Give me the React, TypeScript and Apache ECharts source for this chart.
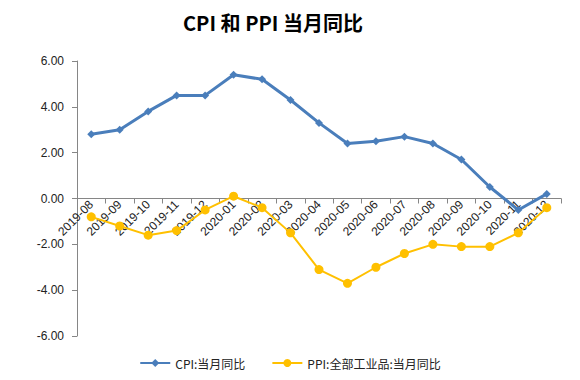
import React, { useEffect, useRef } from "react";
import * as echarts from "echarts";

const categories = [
  "2019-08", "2019-09", "2019-10", "2019-11", "2019-12",
  "2020-01", "2020-02", "2020-03", "2020-04", "2020-05", "2020-06",
  "2020-07", "2020-08", "2020-09", "2020-10", "2020-11", "2020-12",
];
const cpiValues = [2.8, 3.0, 3.8, 4.5, 4.5, 5.4, 5.2, 4.3, 3.3, 2.4, 2.5, 2.7, 2.4, 1.7, 0.5, -0.5, 0.2];
const ppiValues = [-0.8, -1.2, -1.6, -1.4, -0.5, 0.1, -0.4, -1.5, -3.1, -3.7, -3.0, -2.4, -2.0, -2.1, -2.1, -1.5, -0.4];
const seriesNames = ["CPI:当月同比", "PPI:全部工业品:当月同比"];
const titleText = "CPI 和 PPI 当月同比";

const GRID_TOP = 61;
const GRID_BOTTOM = 44;
const PLOT_H = 380 - GRID_TOP - GRID_BOTTOM;

export default function App() {
  const ref = useRef<HTMLDivElement>(null);
  useEffect(() => {
    if (!ref.current) return;
    const chart = echarts.init(ref.current, undefined, { renderer: "svg" });
    chart.setOption({
      animation: false,
      backgroundColor: "#ffffff",
      title: {
        text: titleText,
        left: 178,
        top: 7,
        textStyle: {
          fontFamily: "Noto Sans CJK SC",
          fontSize: 20,
          fontWeight: "bold",
          color: "#000",
        },
      },
      legend: {
        bottom: 6,
        left: "center",
        itemGap: 26,
        itemWidth: 30,
        itemHeight: 10,
        textStyle: { fontFamily: "Noto Sans CJK SC", fontSize: 12, color: "#222" },
        data: seriesNames,
      },
      grid: { left: 77, right: 19, top: GRID_TOP, bottom: GRID_BOTTOM },
      xAxis: {
        type: "category",
        data: categories,
        boundaryGap: true,
        position: "bottom",
        offset: -PLOT_H / 2,
        axisLine: { onZero: false, lineStyle: { color: "#868686", width: 1 } },
        axisTick: { show: true, alignWithLabel: false, length: 5, lineStyle: { color: "#868686" } },
        axisLabel: {
          rotate: 45,
          interval: 0,
          fontFamily: "Liberation Sans",
          fontSize: 12,
          color: "#222",
          margin: 4,
        },
      },
      yAxis: {
        type: "value",
        min: -6,
        max: 6,
        interval: 2,
        splitLine: { show: false },
        axisLine: { show: true, lineStyle: { color: "#868686" } },
        axisTick: { show: true, length: 5, lineStyle: { color: "#868686" } },
        axisLabel: {
          formatter: (v: number) => v.toFixed(2),
          fontFamily: "Liberation Sans",
          fontSize: 12,
          color: "#222",
          margin: 13,
        },
      },
      series: [
        {
          name: seriesNames[0],
          type: "line",
          data: cpiValues,
          symbol: "diamond",
          symbolSize: 8,
          lineStyle: { color: "#4a7ebb", width: 3 },
          itemStyle: { color: "#4a7ebb" },
        },
        {
          name: seriesNames[1],
          type: "line",
          data: ppiValues,
          symbol: "circle",
          symbolSize: 9,
          lineStyle: { color: "#ffc000", width: 2 },
          itemStyle: { color: "#ffc000" },
        },
      ],
    });
    return () => chart.dispose();
  }, []);
  return <div ref={ref} style={{ width: 580, height: 380, position: "absolute", left: 0, top: 0 }} />;
}
